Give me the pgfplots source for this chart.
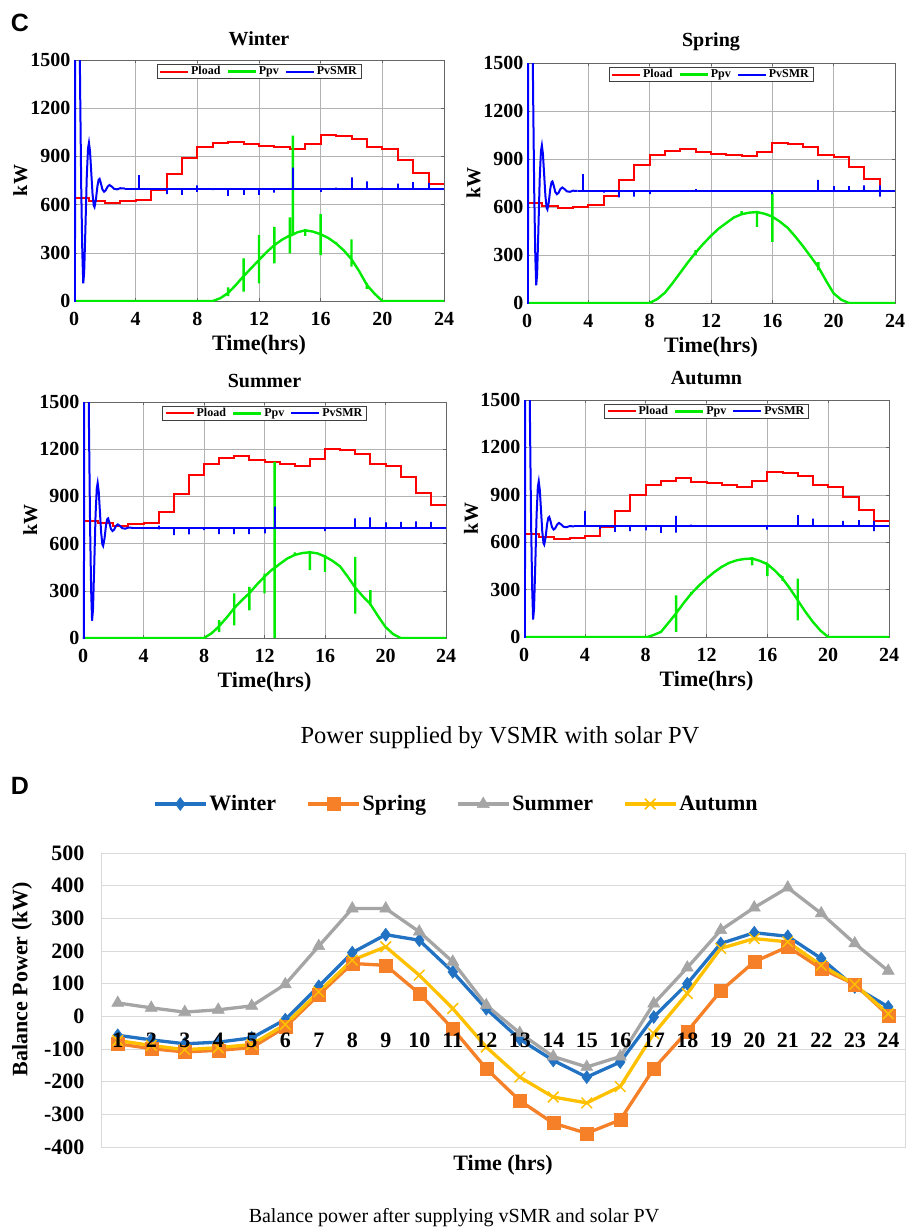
\documentclass[border=0pt]{standalone}
\usepackage{pgfplots}
\pgfplotsset{compat=1.18}
\usepackage{pgfplotstable}
\usepackage{fontspec}
\setmainfont{Liberation Serif}
\newfontfamily\arialfont{Liberation Sans}
\newcommand\fs[1]{\fontsize{#1}{#1}\selectfont}
\definecolor{mred}{RGB}{255,0,0}
\definecolor{mgreen}{RGB}{0,235,0}
\definecolor{mblue}{RGB}{0,0,255}
\definecolor{wblue}{RGB}{34,114,195}
\definecolor{sorange}{RGB}{245,128,40}
\definecolor{sgray}{RGB}{165,165,165}
\definecolor{ayellow}{RGB}{255,192,0}

\pgfplotstableread{
t v
0 0
0.06 0
0.08 1600
0.15 2400
0.25 2600
0.33 2000
0.40 1300
0.47 700
0.54 300
0.60 110
0.66 180
0.74 450
0.83 780
0.91 950
0.97 985
1.04 930
1.12 800
1.20 670
1.28 595
1.33 585
1.42 630
1.52 715
1.60 755
1.66 760
1.74 735
1.84 695
1.95 680
2.05 688
2.18 712
2.30 722
2.45 712
2.60 698
2.80 695
3.00 702
3.30 700
}\transient

\pgfplotstableread{
h W S Su A
1 -58 -84 41 -74
2 -72 -99 26 -89
3 -84 -109 13 -102
4 -79 -104 20 -96
5 -66 -96 32 -86
6 -10 -33 98 -25
7 92 66 215 75
8 195 162 330 172
9 250 156 330 213
10 233 70 259 126
11 136 -38 167 24
12 23 -160 34 -94
13 -70 -258 -51 -186
14 -135 -327 -123 -247
15 -186 -358 -155 -265
16 -140 -317 -123 -215
17 -2 -160 39 -53
18 100 -46 149 70
19 223 78 264 208
20 256 167 333 238
21 245 213 394 228
22 177 146 315 156
23 90 98 223 98
24 29 3 139 8
}\balance

\pgfplotsset{
 mat/.style={
  scale only axis,
  xmin=0, xmax=24, ymin=0, ymax=1500,
  xtick={0,4,...,24}, ytick={0,300,...,1500},
  grid=major, grid style={draw=black!30, line width=0.6pt},
  axis line style={draw=black!60, line width=0.8pt},
  tick style={draw=black!60, line width=0.6pt},
  tick align=inside, major tick length=3pt,
  tick label style={font=\bfseries\fs{20}},
  /pgf/number format/assume math mode=true,
  /pgf/number format/1000 sep={},
  scaled ticks=false,
  xticklabel style={anchor=center, yshift=-18pt},
  xlabel={Time(hrs)}, ylabel={kW},
  xlabel style={font=\bfseries\fs{22}, at={(axis description cs:0.5,0)}, anchor=center, yshift=-44pt},
  ylabel style={font=\bfseries\fs{20}, at={(axis description cs:-0.145,0.5)}, anchor=center},
  title style={font=\bfseries\fs{20}, at={(axis description cs:0.5,1)}, anchor=center, yshift=15.5pt},
  legend style={at={(axis description cs:0.5,0.982)}, anchor=north, legend columns=3,
    font=\bfseries\fs{12}, draw=black!75, line width=0.6pt, inner xsep=2pt, inner ysep=0pt,
    /tikz/every even column/.append style={column sep=4pt}},
  legend image code/.code={\draw[#1] (0pt,0pt) -- (28pt,0pt);},
 },
 dbox/.style={
  at={(101pt,-853pt)}, anchor=north west, scale only axis, width=804pt, height=294pt,
  xmin=0.5, xmax=24.5, ymin=-400, ymax=500,
 },
}
\tikzset{
 pl/.style={draw=mred, color=mred, line width=2pt},
 pv/.style={draw=mgreen, color=mgreen, line width=2.4pt},
 sm/.style={draw=mblue, color=mblue, line width=2pt},
}

\begin{document}
\begin{tikzpicture}
\useasboundingbox (0,0) rectangle (907pt,-1232pt);

\node[font=\arialfont\bfseries\fs{25}] at (20pt,-23pt) {C};
\node[font=\arialfont\bfseries\fs{25}] at (20pt,-786pt) {D};
\node[font=\fs{24.5}] at (500pt,-738pt) {Power supplied by VSMR with solar PV};
\node[font=\fs{20}] at (454pt,-1218pt) {Balance power after supplying vSMR and solar PV};

% ---------------- Winter
\begin{axis}[mat, at={(74pt,-60pt)}, anchor=north west, width=370pt, height=241pt, title={Winter}]
\addplot[pl, const plot] coordinates {(0,640)(1,625)(2,612)(3,620)(4,628)(5,688)(6,793)(7,892)(8,956)(9,981)(10,992)(11,975)(12,967)(13,956)(14,944)(15,977)(16,1035)(17,1025)(18,1010)(19,960)(20,946)(21,878)(22,799)(23,730)(24,730)};
\addlegendentry{Pload}
\addplot[pv] coordinates {(0,0)(9,0)(9.5,18)(10,50)(10,85)(10,30)(10,50)(10.5,100)(11,155)(11,266)(11,58)(11,155)(11.5,205)(12,255)(12,410)(12,110)(12,255)(12.5,305)(13,348)(13,462)(13,234)(13,348)(13.5,382)(14,408)(14,520)(14,297)(14,408)(14.2,414)(14.2,1030)(14.2,414)(14.5,428)(15,440)(15,405)(15,440)(15.5,432)(16,415)(16,540)(16,286)(16,415)(16.5,392)(17,358)(17,368)(17,358)(17.5,315)(18,260)(18,384)(18,214)(18,260)(18.5,185)(19,100)(19,112)(19,75)(19,100)(19.5,45)(20,0)(24,0)};
\addlegendentry{Ppv}
\addplot[sm] coordinates {(3.3,700)(4.2,700)(4.2,784)(4.2,700)(6,700)(6,665)(6,700)(7,700)(7,660)(7,700)(8,700)(8,720)(8,680)(8,700)(9,700)(9,690)(9,700)(10,700)(10,655)(10,700)(11,700)(11,660)(11,700)(12,700)(12,660)(12,700)(13,700)(13,675)(13,700)(14.2,700)(14.2,830)(14.2,700)(15,700)(15,694)(15,700)(16,700)(16,680)(16,700)(17,700)(17,706)(17,700)(18,700)(18,770)(18,700)(19,700)(19,745)(19,700)(20,700)(20,706)(20,700)(21,700)(21,730)(21,700)(22,700)(22,740)(22,700)(23,700)(23,735)(23,700)(24,700)};
\addlegendentry{PvSMR}
\addplot[sm, forget plot] table[x=t,y=v] {\transient};
\end{axis}

% ---------------- Spring
\begin{axis}[mat, at={(527pt,-63pt)}, anchor=north west, width=368pt, height=240pt, title={Spring}]
\addplot[pl, const plot] coordinates {(0,622)(1,608)(2,595)(3,601)(4,610)(5,668)(6,769)(7,865)(8,925)(9,953)(10,963)(11,942)(12,934)(13,927)(14,917)(15,946)(16,1003)(17,992)(18,978)(19,927)(20,915)(21,852)(22,773)(23,700)(24,700)};
\addlegendentry{Pload}
\addplot[pv] coordinates {(0,0)(8,0)(8.5,25)(9,65)(9.5,125)(10,190)(10.5,255)(11,315)(11,330)(11,300)(11,315)(11.5,370)(12,420)(12.5,465)(13,500)(13.5,535)(14,555)(14,575)(14,555)(14.5,565)(15,568)(15,476)(15,568)(15.5,558)(16,540)(16,685)(16,382)(16,540)(16.5,508)(17,470)(17.5,415)(18,355)(18.5,290)(19,225)(19,255)(19,205)(19,225)(19.5,140)(20,60)(20.5,20)(21,0)(24,0)};
\addlegendentry{Ppv}
\addplot[sm] coordinates {(3.3,700)(3.65,700)(3.65,806)(3.65,700)(5,700)(5,690)(5,700)(6,700)(6,660)(6,700)(7,700)(7,665)(7,700)(8,700)(8,680)(8,700)(11,700)(11,712)(11,700)(16,700)(16,680)(16,700)(19,700)(19,769)(19,700)(20,700)(20,730)(20,700)(21,700)(21,730)(21,700)(22,700)(22,735)(22,700)(23,700)(23,735)(23,665)(23,700)(24,700)};
\addlegendentry{PvSMR}
\addplot[sm, forget plot] table[x=t,y=v] {\transient};
\end{axis}

% ---------------- Summer
\begin{axis}[mat, at={(83pt,-402pt)}, anchor=north west, width=363pt, height=236pt, title={Summer}]
\addplot[pl, const plot] coordinates {(0,744)(1,729)(2,714)(3,722)(4,733)(5,799)(6,918)(7,1035)(8,1107)(9,1141)(10,1154)(11,1132)(12,1120)(13,1107)(14,1094)(15,1137)(16,1202)(17,1192)(18,1171)(19,1105)(20,1094)(21,1022)(22,924)(23,843)(24,843)};
\addlegendentry{Pload}
\addplot[pv] coordinates {(0,0)(8,0)(8.5,30)(9,75)(9,113)(9,38)(9,75)(9.5,130)(10,190)(10,283)(10,81)(10,190)(10.5,240)(11,285)(11,325)(11,176)(11,285)(11.5,340)(12,390)(12,410)(12,283)(12,390)(12.5,435)(12.67,445)(12.67,1120)(12.67,0)(12.67,445)(13,470)(13.5,505)(14,528)(14,545)(14,528)(14.5,540)(15,545)(15,431)(15,545)(15.5,538)(16,518)(16,527)(16,420)(16,518)(16.5,490)(17,455)(17.5,390)(18,320)(18,516)(18,155)(18,320)(18.5,265)(19,215)(19,304)(19,208)(19,215)(19.5,140)(20,70)(20.5,25)(21,0)(24,0)};
\addlegendentry{Ppv}
\addplot[sm] coordinates {(3.3,700)(5,700)(5,715)(5,690)(5,700)(6,700)(6,654)(6,700)(7,700)(7,659)(7,700)(8,700)(8,685)(8,700)(9,700)(9,660)(9,700)(10,700)(10,660)(10,700)(11,700)(11,660)(11,700)(12,700)(12,665)(12,700)(12.67,700)(12.67,835)(12.67,700)(16,700)(16,680)(16,700)(18,700)(18,760)(18,700)(19,700)(19,767)(19,700)(20,700)(20,735)(20,700)(21,700)(21,738)(21,700)(22,700)(22,742)(22,700)(23,700)(23,738)(23,700)(24,700)};
\addlegendentry{PvSMR}
\addplot[sm, forget plot] table[x=t,y=v] {\transient};
\end{axis}

% ---------------- Autumn
\begin{axis}[mat, at={(524pt,-400pt)}, anchor=north west, width=365pt, height=237pt, title={Autumn}]
\addplot[pl, const plot] coordinates {(0,649)(1,634)(2,621)(3,627)(4,640)(5,697)(6,797)(7,898)(8,961)(9,989)(10,1004)(11,982)(12,972)(13,961)(14,951)(15,987)(16,1046)(17,1035)(18,1018)(19,961)(20,951)(21,887)(22,803)(23,733)(24,733)};
\addlegendentry{Pload}
\addplot[pv] coordinates {(0,0)(8.1,0)(8.5,12)(9,32)(9.5,90)(10,150)(10,264)(10,32)(10,150)(10.5,215)(11,275)(11,285)(11,265)(11,275)(11.5,325)(12,370)(12.5,410)(13,444)(13.5,470)(14,486)(14.5,494)(15,497)(15,454)(15,497)(15.5,482)(16,461)(16,385)(16,461)(16.5,420)(17,370)(17,385)(17,355)(17,370)(17.5,305)(18,232)(18,370)(18,106)(18,232)(18.5,160)(19,95)(19.5,40)(20,0)(24,0)};
\addlegendentry{Ppv}
\addplot[sm] coordinates {(3.3,700)(4,700)(4,799)(4,700)(5,700)(5,685)(5,700)(6,700)(6,666)(6,700)(7,700)(7,670)(7,700)(8,700)(8,675)(8,700)(9,700)(9,659)(9,700)(10,700)(10,767)(10,661)(10,700)(11,700)(11,712)(11,700)(16,700)(16,680)(16,700)(18,700)(18,771)(18,700)(19,700)(19,750)(19,700)(21,700)(21,735)(21,700)(22,700)(22,740)(22,700)(23,700)(23,735)(23,670)(23,700)(24,700)};
\addlegendentry{PvSMR}
\addplot[sm, forget plot] table[x=t,y=v] {\transient};
\end{axis}

% ---------------- Panel D (data)
\begin{axis}[
 dbox,
 xtick={1,...,24}, xticklabels={},
 ytick={-400,-300,...,500},
 ymajorgrids, grid style={draw=black!15, line width=1pt},
 axis line style={draw=black!15, line width=1pt},
 major tick length=0pt,
 tick label style={font=\bfseries\fs{22}},
 /pgf/number format/assume math mode=true,
 scaled ticks=false,
 yticklabel style={anchor=east, xshift=-13pt},
 xlabel={Time (hrs)},
 xlabel style={font=\bfseries\fs{22}, at={(axis description cs:0.5,0)}, anchor=center, yshift=-18pt},
 ylabel={Balance Power (kW)},
 ylabel style={font=\bfseries\fs{22}, at={(axis description cs:-0.0983,0.5714)}, anchor=center},
 legend columns=4,
 legend style={at={(axis description cs:0.442,1.1667)}, anchor=center, draw=none, fill=none,
   font=\bfseries\fs{22}, inner sep=0pt,
   /tikz/every even column/.append style={column sep=28pt}},
 legend image code/.code={\draw[mark repeat=2,mark phase=2,#1] plot coordinates {(0pt,0pt) (25.5pt,0pt) (51pt,0pt)};},
]
\addplot[wblue, line width=3.3pt, mark=diamond*, mark size=6.5pt, mark options={solid, line width=0.5pt}] table[x=h,y=W] {\balance};
\addlegendentry{Winter}
\addplot[sorange, line width=3.3pt, mark=square*, mark size=6.5pt, mark options={solid, line width=0.5pt}] table[x=h,y=S] {\balance};
\addlegendentry{Spring}
\addplot[sgray, line width=3.3pt, mark=triangle*, mark size=7pt, mark options={solid, line width=0.5pt}] table[x=h,y=Su] {\balance};
\addlegendentry{Summer}
\addplot[ayellow, line width=3.3pt, mark=x, mark size=7.5pt, mark options={solid, line width=1.5pt}] table[x=h,y=A] {\balance};
\addlegendentry{Autumn}
\end{axis}

% ---------------- Panel D (category labels drawn over the lines)
\begin{axis}[
 dbox,
 xtick={1,...,24}, ytick=\empty,
 axis line style={draw=none}, major tick length=0pt,
 tick label style={font=\bfseries\fs{22}},
 /pgf/number format/assume math mode=true,
 xticklabel style={anchor=center, yshift=107pt},
]
\addplot[draw=none, forget plot] coordinates {(1,0)(24,0)};
\end{axis}
\end{tikzpicture}
\end{document}
